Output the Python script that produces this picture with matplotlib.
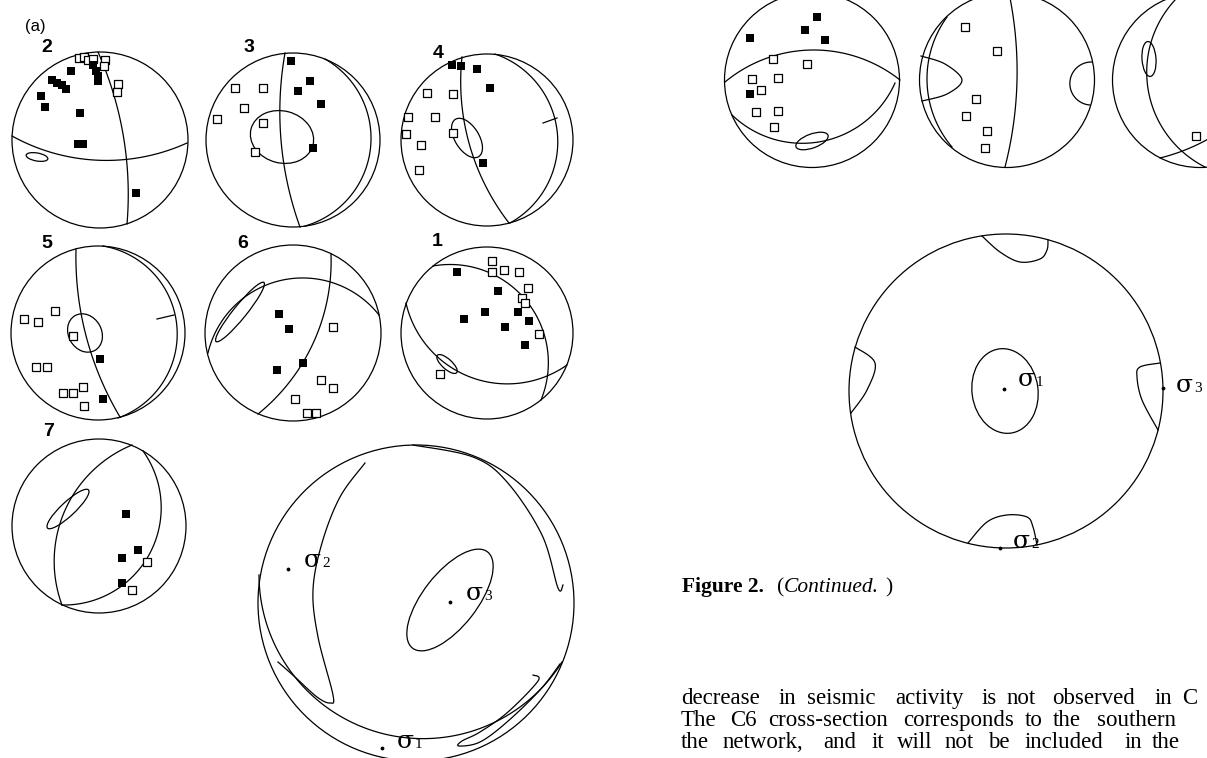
import numpy as np
import matplotlib.pyplot as plt
from matplotlib.patches import Circle, Ellipse

# ---- small stereonets: centre x, centre y, radius (pixels) ----
net_labels = ["2", "3", "4", "5", "6", "1", "7"]
net_cx = [100, 293, 487, 98, 293, 487, 99]
net_cy = [140, 140, 140, 333, 333, 333, 526]
net_r = [88, 87, 86, 87, 88, 86, 87]
label_xy = [(47, 47), (249, 47), (438, 53), (47, 243), (243, 243), (437, 242), (49, 432)]

# compressional (filled) and dilatational (open) readings per net
filled = {
    "2": [(71, 71), (52, 80), (57, 83), (62, 85), (66, 89), (41, 96), (45, 107), (80, 113),
          (78, 144), (83, 144), (93, 65), (96, 71), (98, 76), (98, 81), (136, 193)],
    "3": [(291, 61), (310, 81), (298, 91), (321, 104), (313, 148)],
    "4": [(452, 65), (461, 66), (477, 69), (490, 88), (483, 163)],
    "5": [(100, 359), (103, 399)],
    "6": [(279, 314), (289, 329), (303, 363), (277, 370)],
    "1": [(457, 272), (498, 291), (485, 312), (464, 319), (518, 312), (529, 321), (505, 327), (525, 345)],
    "7": [(126, 514), (138, 550), (122, 558), (122, 583)],
    "A": [(817, 17), (805, 30), (825, 40), (750, 38), (750, 94)],
}
opened = {
    "2": [(79, 58), (84, 57), (88, 60), (93, 59), (105, 60), (104, 66), (118, 84), (117, 92)],
    "3": [(235, 88), (263, 88), (244, 108), (217, 119), (263, 123), (255, 152)],
    "4": [(427, 93), (453, 94), (408, 117), (435, 117), (406, 134), (453, 133), (421, 145), (419, 170)],
    "5": [(55, 311), (24, 319), (38, 322), (73, 336), (36, 367), (47, 367), (63, 393), (73, 393),
          (83, 387), (84, 406)],
    "6": [(333, 327), (321, 380), (333, 388), (295, 399), (307, 413), (316, 413)],
    "1": [(492, 261), (492, 272), (504, 270), (519, 272), (528, 288), (522, 298), (525, 303),
          (539, 334), (440, 374)],
    "7": [(147, 562), (132, 590)],
    "A": [(773, 59), (807, 64), (752, 79), (778, 78), (761, 90), (756, 112), (778, 111), (774, 127)],
    "B": [(965, 27), (997, 51), (976, 99), (966, 116), (987, 131), (985, 148)],
    "C": [(1196, 136)],
}

# great circles as three points (start, through, end)
great_circles = [
    [(12, 136), (83, 159), (187, 143)], [(98, 52), (124, 140), (127, 224)],
    [(285, 53), (281, 140), (300, 227)], [(325, 59), (371, 140), (305, 226)],
    [(462, 57), (472, 153), (509, 223)], [(495, 54), (557, 130), (510, 223)],
    [(76, 249), (88, 343), (120, 417)], [(103, 246), (177, 340), (118, 418)],
    [(331, 254), (323, 317), (258, 414)], [(208, 353), (300, 278), (379, 315)],
    [(433, 266), (533, 310), (541, 400)], [(406, 303), (483, 381), (567, 365)],
    [(132, 445), (56, 540), (62, 605)], [(143, 451), (150, 553), (62, 605)],
    # right page, top row
    [(725, 82), (813, 50), (900, 80)], [(732, 115), (810, 143), (895, 83)],
    [(1009, -7), (1017, 80), (1005, 167)], [(947, 17), (927, 80), (952, 147)],
    [(1092, 62), (1070, 86), (1090, 105)],
    [(1180, -5), (1147, 80), (1205, 167)], [(1160, 158), (1185, 150), (1210, 138)],
    # large net, lower left
    [(259, 575), (400, 737), (562, 662)],
]
ticks = [[(543, 123), (557, 118)], [(157, 319), (174, 315)]]

# confidence ellipses: centre, width, height, angle
ellipses = [
    ((37, 157), 22, 8, 10), ((282, 137), 64, 52, 15), ((467, 138), 44, 24, 58),
    ((85, 333), 40, 33, 60), ((240, 312), 76, 13, -51), ((447, 364), 26, 10, 42),
    ((68, 509), 56, 14, -43), ((812, 141), 34, 14, -20), ((1149, 59), 14, 35, -4),
    ((450, 600), 122, 54, -52), ((1005, 391), 66, 85, -8),
]

# open contours on the stress nets
contours = [
    [(365, 463), (340, 497), (322, 543), (313, 590), (318, 637), (333, 695), (330, 703),
     (317, 697), (295, 677), (278, 662)],
    [(413, 445), (473, 457), (507, 482), (542, 535), (558, 588), (563, 585)],
    [(533, 675), (538, 681), (508, 712), (480, 732), (462, 741), (459, 746), (480, 742),
     (507, 722), (540, 690), (560, 664)],
    [(921, 56), (945, 64), (962, 80), (947, 94), (922, 101)],
    [(982, 236), (1000, 252), (1020, 262), (1040, 259), (1047, 250), (1048, 240)],
    [(855, 347), (875, 363), (867, 390), (851, 413)],
    [(1160, 363), (1140, 367), (1137, 377), (1142, 400), (1158, 430)],
    [(968, 543), (987, 522), (1007, 515), (1027, 517), (1033, 527), (1037, 545)],
]

# stress axes: dot position, label position, subscript
sigma_dots = [(288, 569), (450, 602), (382, 748), (1004, 389), (1163, 388), (1000, 548)]
sigma_text = [(304, 567, "2"), (466, 600, "3"), (397, 748, "1"),
              (1018, 386, "1"), (1176, 392, "3"), (1013, 548, "2")]

big_nets = [(416, 603, 158), (812, 80, 87.5), (1007, 80, 87.5), (1200, 80, 87.5), (1006, 391, 157)]

line1 = ["decrease", "in", "seismic", "activity", "is", "not", "observed", "in", "C"]
line1_x = [681, 779, 807, 895, 982, 1007, 1052, 1155, 1182]
line2 = ["The", "C6", "cross-section", "corresponds", "to", "the", "southern"]
line2_x = [681, 730, 768, 903, 1025, 1053, 1097]
line3 = ["the", "network,", "and", "it", "will", "not", "be", "included", "in", "the"]
line3_x = [681, 723, 823, 872, 897, 945, 988, 1025, 1125, 1152]


def arc3(p0, p1, p2, n=120):
    (x1, y1), (x2, y2), (x3, y3) = p0, p1, p2
    d = 2 * (x1 * (y2 - y3) + x2 * (y3 - y1) + x3 * (y1 - y2))
    if abs(d) < 1e-9:
        return np.array([x1, x3]), np.array([y1, y3])
    s1, s2, s3 = x1**2 + y1**2, x2**2 + y2**2, x3**2 + y3**2
    ux = (s1 * (y2 - y3) + s2 * (y3 - y1) + s3 * (y1 - y2)) / d
    uy = (s1 * (x3 - x2) + s2 * (x1 - x3) + s3 * (x2 - x1)) / d
    r = np.hypot(x1 - ux, y1 - uy)
    a1 = np.arctan2(y1 - uy, x1 - ux)
    a2 = np.arctan2(y2 - uy, x2 - ux)
    a3 = np.arctan2(y3 - uy, x3 - ux)
    d2 = (a2 - a1) % (2 * np.pi)
    d3 = (a3 - a1) % (2 * np.pi)
    if d2 < d3:
        t = np.linspace(a1, a1 + d3, n)
    else:
        t = np.linspace(a1, a1 - (2 * np.pi - d3), n)
    return ux + r * np.cos(t), uy + r * np.sin(t)


def smooth(pts, n=14):
    p = np.array(pts, dtype=float)
    p = np.vstack([p[0], p, p[-1]])
    out = []
    for i in range(1, len(p) - 2):
        p0, p1, p2, p3 = p[i - 1], p[i], p[i + 1], p[i + 2]
        for t in np.linspace(0, 1, n, endpoint=False):
            out.append(0.5 * ((2 * p1) + (-p0 + p2) * t + (2 * p0 - 5 * p1 + 4 * p2 - p3) * t**2
                              + (-p0 + 3 * p1 - 3 * p2 + p3) * t**3))
    out.append(p[-2])
    out = np.array(out)
    return out[:, 0], out[:, 1]


fig = plt.figure(figsize=(12.07, 7.58), dpi=100)
ax = fig.add_axes([0, 0, 1, 1])
ax.set_xlim(0, 1207)
ax.set_ylim(758, 0)
ax.axis("off")

lw = 0.9
for cx, cy, r in zip(net_cx, net_cy, net_r):
    ax.add_patch(Circle((cx, cy), r, fill=False, lw=lw, color="black"))
for cx, cy, r in big_nets:
    ax.add_patch(Circle((cx, cy), r, fill=False, lw=lw, color="black"))

for gc in great_circles:
    x, y = arc3(*gc)
    ax.plot(x, y, color="black", lw=lw)
for tk in ticks:
    ax.plot([tk[0][0], tk[1][0]], [tk[0][1], tk[1][1]], color="black", lw=lw)
for c in contours:
    x, y = smooth(c)
    ax.plot(x, y, color="black", lw=lw)
for (cx, cy), w, h, ang in ellipses:
    ax.add_patch(Ellipse((cx, cy), w, h, angle=ang, fill=False, lw=lw, color="black"))

for key, pts in filled.items():
    x, y = zip(*pts)
    ax.scatter(x, y, marker="s", s=32, color="black", zorder=4, linewidths=0)
for key, pts in opened.items():
    x, y = zip(*pts)
    ax.scatter(x, y, marker="s", s=36, facecolors="white", edgecolors="black",
               linewidths=0.9, zorder=3)

for lab, (lx, ly) in zip(net_labels, label_xy):
    ax.text(lx, ly, lab, fontsize=14, fontweight="bold", family="Liberation Sans",
            ha="center", va="center")
ax.text(35, 26, "(a)", fontsize=12, family="Liberation Sans", ha="center", va="center")

dx, dy = zip(*sigma_dots)
ax.scatter(dx, dy, s=3, color="black", zorder=5)
for tx, ty, sub in sigma_text:
    ax.text(tx, ty, "σ", fontsize=18, family="DejaVu Serif", ha="left", va="baseline")
    ax.text(tx + 18, ty, sub, fontsize=11, family="Liberation Serif", ha="left", va="baseline")

# caption and body text
serif = "Liberation Serif"
ax.text(682, 592, "Figure 2.", fontsize=15.5, fontweight="bold", family=serif, va="baseline")
ax.text(777, 592, "(", fontsize=15.5, family=serif, va="baseline")
ax.text(784, 592, "Continued.", fontsize=15.5, style="italic", family=serif, va="baseline")
ax.text(893, 592, ")", fontsize=15.5, family=serif, va="baseline", ha="right")

for words, xs, base in [(line1, line1_x, 704), (line2, line2_x, 726), (line3, line3_x, 748)]:
    for w, x in zip(words, xs):
        ax.text(x, base, w, fontsize=16.5, family=serif, va="baseline")

fig.savefig("out.png", dpi=100)
